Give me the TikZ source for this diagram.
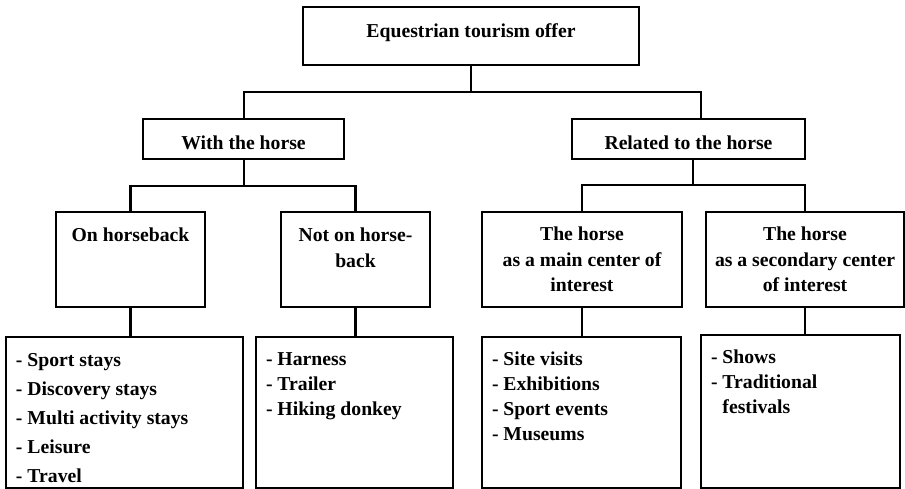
\documentclass[tikz,border=0pt]{standalone}
\usepackage{fontspec}
\setmainfont{Liberation Serif}
\begin{document}
\begin{tikzpicture}[x=1pt,y=-1pt,
  box/.style={draw=black,line width=2.7pt,inner sep=0pt,outer sep=0pt},
  conn/.style={draw=black,line width=2.5pt},
  lbl/.style={inner sep=0pt,outer sep=0pt,font=\fontsize{19.7}{26}\selectfont\bfseries},
  lst/.style={inner sep=0pt,outer sep=0pt,align=left,anchor=base west}]
\useasboundingbox (0,0) rectangle (905,489);
% boxes
\node[box,minimum width=336pt,minimum height=58pt] (top) at (471,36) {};
\node[box,minimum width=201pt,minimum height=40pt] (with) at (243.5,139) {};
\node[box,minimum width=233pt,minimum height=40pt] (rel) at (688.5,139) {};
\node[box,minimum width=149pt,minimum height=95pt] (on) at (130.5,259.5) {};
\node[box,minimum width=149pt,minimum height=95pt] (not) at (355.5,259.5) {};
\node[box,minimum width=200pt,minimum height=95pt] (main) at (582,259.5) {};
\node[box,minimum width=198pt,minimum height=95pt] (sec) at (805,259.5) {};
\node[box,minimum width=237pt,minimum height=151pt] (b1) at (124.5,412.5) {};
\node[box,minimum width=197pt,minimum height=151pt] (b2) at (354.5,412.5) {};
\node[box,minimum width=199pt,minimum height=151pt] (b3) at (581.5,412.5) {};
\node[box,minimum width=199pt,minimum height=153pt] (b4) at (800.5,411.5) {};
% texts (multi-line nodes are placed by the baseline of their last line)
\node[lbl,anchor=base] (ttop) at (471,38) {Equestrian tourism offer};
\node[lbl,anchor=base] (twith) at (243.5,149.5) {With the horse};
\node[lbl,anchor=base] (trel) at (688.5,150) {Related to the horse};
\node[lbl,anchor=base] (ton) at (130.5,242) {On horseback};
\node[lbl,anchor=base,align=center] (tnot) at (355.5,267.5) {Not on horse-\\back};
\node[lbl,anchor=base,align=center,font=\fontsize{19.7}{25.5}\selectfont\bfseries] (tmain) at (582,291.5) {The horse\\as a main center of\\interest};
\node[lbl,anchor=base,align=center,font=\fontsize{19.7}{25.5}\selectfont\bfseries] (tsec) at (805,291.5) {The horse\\as a secondary center\\of interest};
\node[lbl,lst,font=\fontsize{19.7}{29}\selectfont\bfseries] (tb1) at (16,482) {- Sport stays\\- Discovery stays\\- Multi activity stays\\- Leisure\\- Travel};
\node[lbl,lst,font=\fontsize{19.7}{25}\selectfont\bfseries] (tb2) at (266,415) {- Harness\\- Trailer\\- Hiking donkey};
\node[lbl,lst,font=\fontsize{19.7}{25}\selectfont\bfseries] (tb3) at (492,440) {- Site visits\\- Exhibitions\\- Sport events\\- Museums};
\node[lbl,lst,font=\fontsize{19.7}{25}\selectfont\bfseries] (tb4) at (711,413) {- Shows\\- Traditional\\\hphantom{-~}festivals};
% connectors
\coordinate (j0) at (471,92);
\coordinate (j1) at (244,186);
\coordinate (j2) at (693,185);
\draw[conn] (top.south) -- (j0);
\draw[conn] (with.north -| j1) |- (j0) -| ([xshift=12.5pt]rel.north);
\draw[conn] (with.south -| j1) -- (j1);
\draw[conn] (on.north) |- (j1) -| (not.north);
\draw[conn] (rel.south -| j2) -- (j2);
\draw[conn] (main.north) |- (j2) -| (sec.north);
\draw[conn] (on.south) -- (on.south |- b1.north);
\draw[conn] (not.south) -- (not.south |- b2.north);
\draw[conn] (main.south) -- (main.south |- b3.north);
\draw[conn] (sec.south) -- (sec.south |- b4.north);
\end{tikzpicture}
\end{document}
